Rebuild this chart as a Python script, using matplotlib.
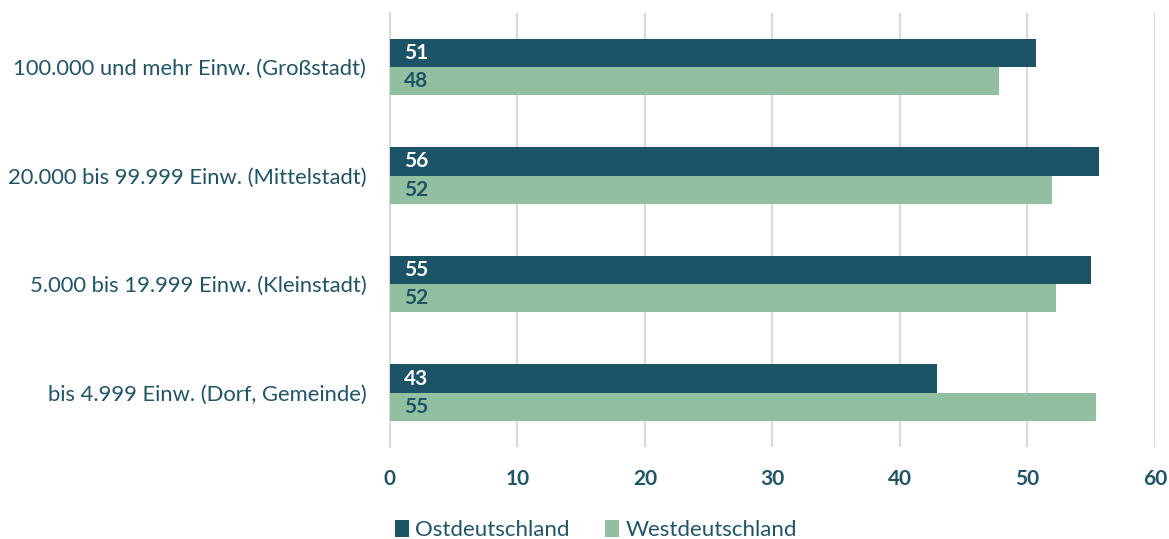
import matplotlib.pyplot as plt
import numpy as np

# Daten (von unten nach oben gelesen)
kategorien = ["bis 4.999 Einw. (Dorf, Gemeinde)",
              "5.000 bis 19.999 Einw. (Kleinstadt)",
              "20.000 bis 99.999 Einw. (Mittelstadt)",
              "100.000 und mehr Einw. (Großstadt)"]
ost = [42.9, 55.0, 55.6, 50.7]
west = [55.4, 52.2, 51.9, 47.8]
serien = ["Ostdeutschland", "Westdeutschland"]

dunkel = "#1c5366"
hell = "#93bfa1"
textfarbe = "#1f5567"

plt.rcParams['font.family'] = ['Lato', 'DejaVu Sans']

fig = plt.figure(figsize=(11.69, 5.39), dpi=100)
ax = fig.add_axes([0.3336, 0.1707, 0.988 - 0.3336, 0.9763 - 0.1707])

y = np.arange(len(kategorien))
h = 0.26
b1 = ax.barh(y + h / 2, ost, height=h, color=dunkel, label=serien[0], zorder=3)
b2 = ax.barh(y - h / 2, west, height=h, color=hell, label=serien[1], zorder=3)

# Werte in den Balken
for i in range(len(kategorien)):
    ax.text(1.1, y[i] + h / 2, f"{ost[i]:.0f}", color="white", fontsize=15,
            fontweight="bold", va="center", ha="left", zorder=4)
    ax.text(1.1, y[i] - h / 2, f"{west[i]:.0f}", color=dunkel, fontsize=15,
            fontweight="bold", va="center", ha="left", zorder=4)

ax.set_xlim(0, 60)
ax.set_ylim(-0.5, len(kategorien) - 0.5)
ax.set_xticks(np.arange(0, 61, 10))
ax.set_yticks(y)
ax.set_yticklabels(kategorien, fontsize=15.8, color=textfarbe)
for lab in ax.get_xticklabels():
    lab.set_fontweight("bold")
    lab.set_fontsize(15)
    lab.set_color(textfarbe)

ax.grid(axis="x", color="#d9d9d9", linewidth=1.5, zorder=0)
for s in ["top", "right", "bottom"]:
    ax.spines[s].set_visible(False)
ax.spines["left"].set_color("#d9d9d9")
ax.spines["left"].set_linewidth(1.5)
ax.tick_params(axis="both", length=0)
ax.tick_params(axis="x", pad=16)
ax.tick_params(axis="y", pad=17)

fig.legend(handles=[b1, b2], loc="center", bbox_to_anchor=(0.51, 0.017),
           ncol=2, frameon=False, fontsize=16, handlelength=0.6,
           handleheight=0.8, handletextpad=0.3, columnspacing=1.6,
           labelcolor=textfarbe)

fig.savefig("out.png", dpi=100)
